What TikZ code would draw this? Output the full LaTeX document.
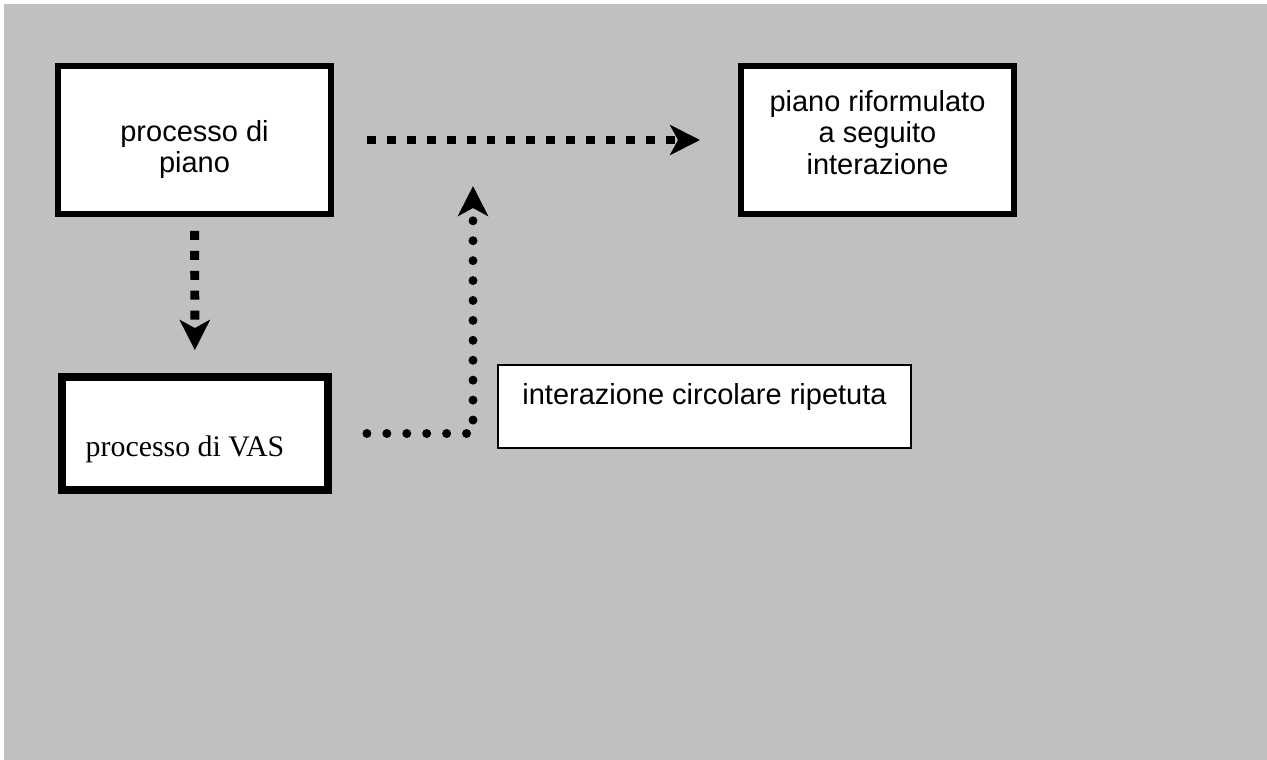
\documentclass[tikz,border=0pt]{standalone}
\usepackage{fontspec}
\setmainfont{Liberation Sans}
\newfontfamily\vasfont{Liberation Serif}
\usetikzlibrary{arrows.meta}
\definecolor{bggray}{RGB}{192,192,192}

\begin{document}
\begin{tikzpicture}[x=0.02cm,y=-0.02cm,
    font=\fontsize{16.5pt}{18pt}\selectfont,
    boxthick/.style={draw,fill=white,line width=3.4pt,minimum width=5.46cm,minimum height=2.96cm,align=center,text height=1.74cm,text depth=0.42cm},
    squarearrow/.style={line width=5.1pt,dash pattern=on 5.1pt off 6.24pt,-{Stealth[length=0.6cm,width=0.6cm,inset=0.16cm]}},
    dotarrow/.style={line width=5.1pt,line cap=round,dash pattern=on 0pt off 11.34pt,-{Stealth[length=0.6cm,width=0.6cm,inset=0.16cm]}}]
                % Background
                \useasboundingbox (0,0) rectangle (1267,760);
                \fill[bggray] (4,4) rectangle (1267,760);
                % Boxes
                \node[boxthick] (piano) at (194.5,140) {processo di\\piano};
                \node[boxthick,text depth=0.36cm] (riform) at (877.5,140) {piano riformulato\\a seguito\\interazione};
                \node[boxthick,line width=4.5pt,minimum width=5.32cm,minimum height=2.26cm,text height=1cm,text depth=0.06cm,
                      font=\vasfont\fontsize{17pt}{18pt}\selectfont] (vas) at (195,433.5) {processo di VAS\hspace{0.4cm}};
                \node[draw,fill=white,line width=0.9pt,minimum width=8.26cm,minimum height=1.66cm,text height=0.42cm,text depth=0.5cm] (interaz) at (704.5,406.5) {interazione circolare ripetuta};
                % Arrows
                \draw[squarearrow,shorten <=0.66cm,shorten >=0.76cm] (piano) -- (riform);
                \draw[squarearrow,shorten <=0.28cm,shorten >=0.46cm] (piano) -- (vas);
                \coordinate (join) at (473,186);
                \draw[dotarrow,shorten <=0.7cm] (vas) -| (join);
              \end{tikzpicture}
\end{document}
